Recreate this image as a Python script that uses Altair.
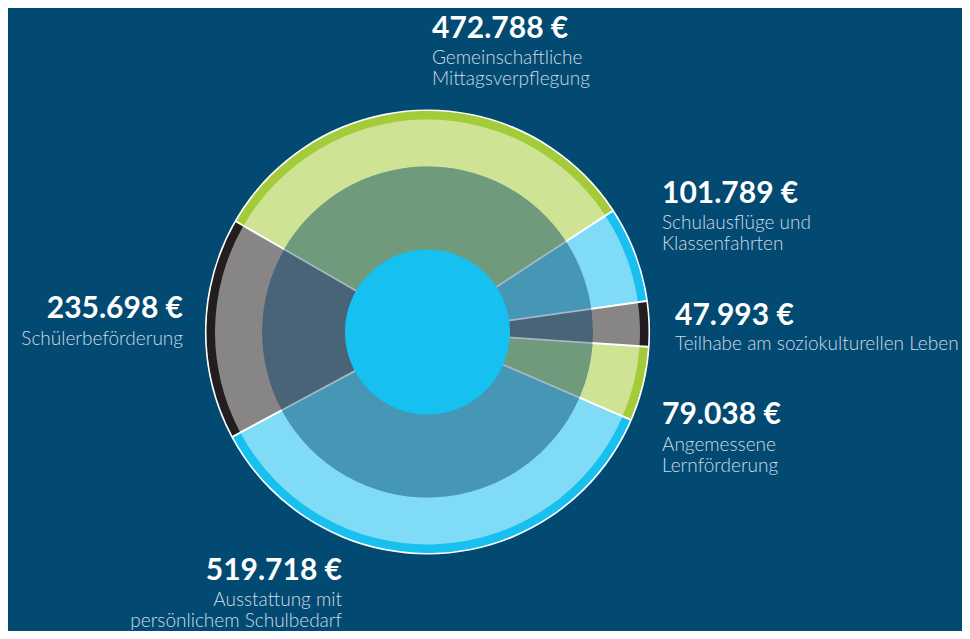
import math
import altair as alt
import pandas as pd

# ---- data ----
categories = [
    "Gemeinschaftliche Mittagsverpflegung",
    "Schulausflüge und Klassenfahrten",
    "Teilhabe am soziokulturellen Leben",
    "Angemessene Lernförderung",
    "Ausstattung mit persönlichem Schulbedarf",
    "Schülerbeförderung",
]
amounts = [472788, 101789, 47993, 79038, 519718, 235698]
value_labels = ["472.788 €", "101.789 €", "47.993 €", "79.038 €", "519.718 €", "235.698 €"]
label_lines = [
    ["Gemeinschaftliche", "Mittagsverpflegung"],
    ["Schulausflüge und", "Klassenfahrten"],
    ["Teilhabe am soziokulturellen Leben"],
    ["Angemessene", "Lernförderung"],
    ["Ausstattung mit", "persönlichem Schulbedarf"],
    ["Schülerbeförderung"],
]
groups = ["green", "blue", "dark", "green", "blue", "dark"]

# ---- styling / layout (page has an 8px margin) ----
M = 8
border_col = {"green": "#a4cc3a", "blue": "#17c0ef", "dark": "#221e1f"}
main_col = {"green": "#cee393", "blue": "#80dcf6", "dark": "#878586"}
inner_col = {"green": "#6f9a7c", "blue": "#4697b5", "dark": "#4a6477"}

label_x = [432, 662, 675, 662, 342, 183]
label_y = [38, 203, 325, 424, 580, 318]
sub_y = [64, 229, 350, 451, 606, 345]
label_side = ["left", "left", "left", "left", "right", "right"]

CX, CY = 427.5 - M, 332 - M
A0 = math.radians(300)
TWO_PI = 2 * math.pi
BG = "#024a71"

df = pd.DataFrame({
    "cat": categories,
    "amount": amounts,
    "order": list(range(len(categories))),
    "border": [border_col[g] for g in groups],
    "main": [main_col[g] for g in groups],
    "inner": [inner_col[g] for g in groups],
    "value_label": value_labels,
    "sub": ["\n".join(l) for l in label_lines],
    "lx": [v - M for v in label_x],
    "ly": [v - M for v in label_y],
    "sy": [v - M for v in sub_y],
    "side": label_side,
})

theta = alt.Theta("amount:Q", stack=True, scale=alt.Scale(range=[A0, A0 + TWO_PI]))
order = alt.Order("order:Q")
one = alt.Data(values=[{"k": 0}])


def disc(r_out, r_in, color):
    return alt.Chart(one).mark_arc(
        radius=r_out, radius2=r_in, theta=0, theta2=TWO_PI, color=color
    ).encode(x=alt.value(CX), y=alt.value(CY))


def ring(r_out, r_in, col, pad):
    return alt.Chart(df).mark_arc(radius=r_out, radius2=r_in, padAngle=pad).encode(
        theta=theta,
        order=order,
        fill=alt.Fill(f"{col}:N", scale=None),
        x=alt.value(CX),
        y=alt.value(CY),
        tooltip=["cat:N", "amount:Q"],
    )


layers = [
    disc(222.6, 160, "#ffffff"),
    ring(214, 164, "main", 2.0 / math.hypot(214, 164)),
    ring(221, 212.5, "border", 2.0 / math.hypot(221, 212.5)),
    disc(165.5, 0, "#a3b7c6"),
    ring(165.5, 80, "inner", 1.8 / math.hypot(165.5, 80)),
    disc(82.5, 0, "#16c1f1"),
]

for side in ["left", "right"]:
    base = alt.Chart(df).transform_filter(alt.datum.side == side)
    layers.append(
        base.mark_text(align=side, baseline="alphabetic", font="Lato", fontWeight="bold",
                       fontSize=30, color="#ffffff").encode(
            x=alt.X("lx:Q", scale=None), y=alt.Y("ly:Q", scale=None), text="value_label:N")
    )
    layers.append(
        base.mark_text(align=side, baseline="alphabetic", font="Lato", fontWeight=300,
                       fontSize=19, color="#cfdbe5", lineBreak="\n", lineHeight=21).encode(
            x=alt.X("lx:Q", scale=None), y=alt.Y("sy:Q", scale=None), text="sub:N")
    )

chart = alt.layer(*layers).properties(
    width=970 - 2 * M,
    height=639 - 2 * M,
    padding=0,
    autosize=alt.AutoSizeParams(type="fit", contains="padding"),
).configure(background=BG).configure_view(stroke=None)

chart.save("out.html", embed_options={"renderer": "svg", "actions": False})
